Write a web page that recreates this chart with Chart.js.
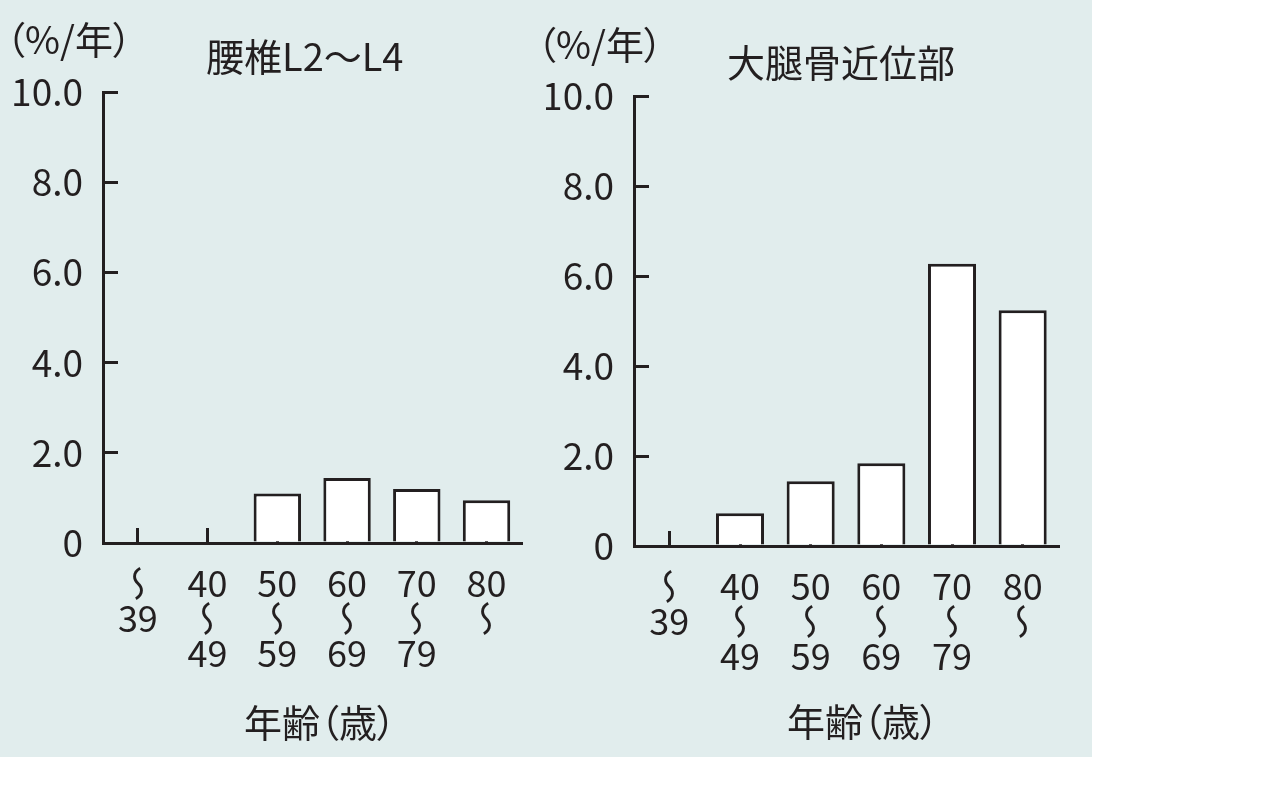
<!DOCTYPE html>
<html lang="ja">
<head>
<meta charset="utf-8">
<script src="https://cdn.jsdelivr.net/npm/chart.js@4"></script>
<style>
  body { margin: 0; background: #fff; }
  #panel { position: relative; width: 1092px; height: 757px; background: #e1eded; }
  .box { position: absolute; top: 0; width: 546px; height: 757px; }
  .txt { position: absolute; font-family: "Noto Sans CJK JP", sans-serif; color: #231f20;
         font-size: 38px; line-height: 38px; white-space: nowrap; font-feature-settings: "palt"; }
</style>
</head>
<body>
<div id="panel">
  <div class="box" style="left:0"><canvas id="lumbar" width="546" height="757"></canvas></div>
  <div class="box" style="left:546px"><canvas id="femur" width="546" height="757"></canvas></div>
  <div class="txt" style="left:6px;top:19px">（%/年）</div>
  <div class="txt" style="left:206px;top:36px">腰椎L2〜L4</div>
  <div class="txt" style="left:537px;top:24px">（%/年）</div>
  <div class="txt" style="left:727px;top:42px">大腿骨近位部</div>
  <div class="txt" style="left:320px;top:702px;transform:translateX(-50%)">年齢（歳）</div>
  <div class="txt" style="left:863px;top:701px;transform:translateX(-50%)">年齢（歳）</div>
</div>
<script>
"use strict";

// DATA -----------------------
const waveDash = "〜";
const ageGroups = [
  [waveDash, "39"],
  ["40", waveDash, "49"],
  ["50", waveDash, "59"],
  ["60", waveDash, "69"],
  ["70", waveDash, "79"],
  ["80", waveDash]
];
const lumbarRate = [0, 0, 1.1, 1.44, 1.2, 0.95];
const femurRate = [0, 0.73, 1.44, 1.84, 6.27, 5.24];
const yTicks = [0, 2, 4, 6, 8, 10];

// STYLE -----------------------
const ink = '#231f20';
const font = "'Noto Sans CJK JP', sans-serif";
const lineH = 35;

// the 〜 between the ages is set upright (vertical form), canvas can't do that
// so the tick label keeps an empty line and the mark is drawn turned here
const waveMark = {
  id: 'waveMark',
  afterDraw(chart) {
    const sc = chart.scales.x;
    const y0 = sc.top + sc.options.ticks.padding + sc.options.grid.tickLength + lineH / 2;
    const ctx = chart.ctx;
    ctx.save();
    ctx.fillStyle = ink;
    ctx.font = "36px " + font;
    ctx.textAlign = 'center';
    ctx.textBaseline = 'middle';
    ageGroups.forEach((lines, i) => {
      const x = sc.getPixelForTick(i);
      lines.forEach((s, j) => {
        if (s !== waveDash) return;
        ctx.save();
        ctx.transform(0, 1, 1, 0, x, y0 + j * lineH);
        ctx.fillText(s, 0, 0);
        ctx.restore();
      });
    });
    ctx.restore();
  }
};

function makeChart(id, values, area) {
  const ctx = document.getElementById(id).getContext('2d');
  return new Chart(ctx, {
    type: 'bar',
    data: {
      labels: ageGroups,
      datasets: [{
        data: values,
        backgroundColor: '#ffffff',
        borderColor: ink,
        borderWidth: 3,
        categoryPercentage: 1,
        barPercentage: 0.68
      }]
    },
    plugins: [waveMark],
    options: {
      responsive: false,
      animation: false,
      devicePixelRatio: 1,
      layout: { padding: { top: area.top, right: 546 - area.right, left: 0, bottom: 0 } },
      plugins: { legend: { display: false }, tooltip: { enabled: false }, title: { display: false } },
      scales: {
        x: {
          z: 1,
          afterFit: function(s) { s.height = 757 - area.bottom; },
          grid: { offset: false, drawOnChartArea: false, drawTicks: true, tickLength: -15, lineWidth: 3, color: ink },
          border: { display: true, width: 3, color: ink },
          ticks: {
            color: ink, padding: 38,
            maxRotation: 0, autoSkip: false,
            font: { family: font, size: 36, lineHeight: lineH + 'px' },
            callback: function(v, i) { return ageGroups[i].map(s => s === waveDash ? '' : s); }
          }
        },
        y: {
          z: 1,
          min: 0, max: 10,
          afterFit: function(s) { s.width = area.left; },
          afterBuildTicks: function(s) { s.ticks = yTicks.map(v => ({ value: v })); },
          grid: { drawOnChartArea: false, drawTicks: true, tickLength: -15, lineWidth: 3, color: ink },
          border: { display: true, width: 3, color: ink },
          ticks: {
            color: ink, padding: 35,
            font: { family: font, size: 37 },
            callback: v => v === 0 ? '0' : v.toFixed(1)
          }
        }
      }
    }
  });
}

// CHARTS -----------------------
makeChart('lumbar', lumbarRate, { left: 103, right: 528, top: 92, bottom: 543 });
makeChart('femur', femurRate, { left: 88, right: 512, top: 96, bottom: 546 });
</script>
</body>
</html>
